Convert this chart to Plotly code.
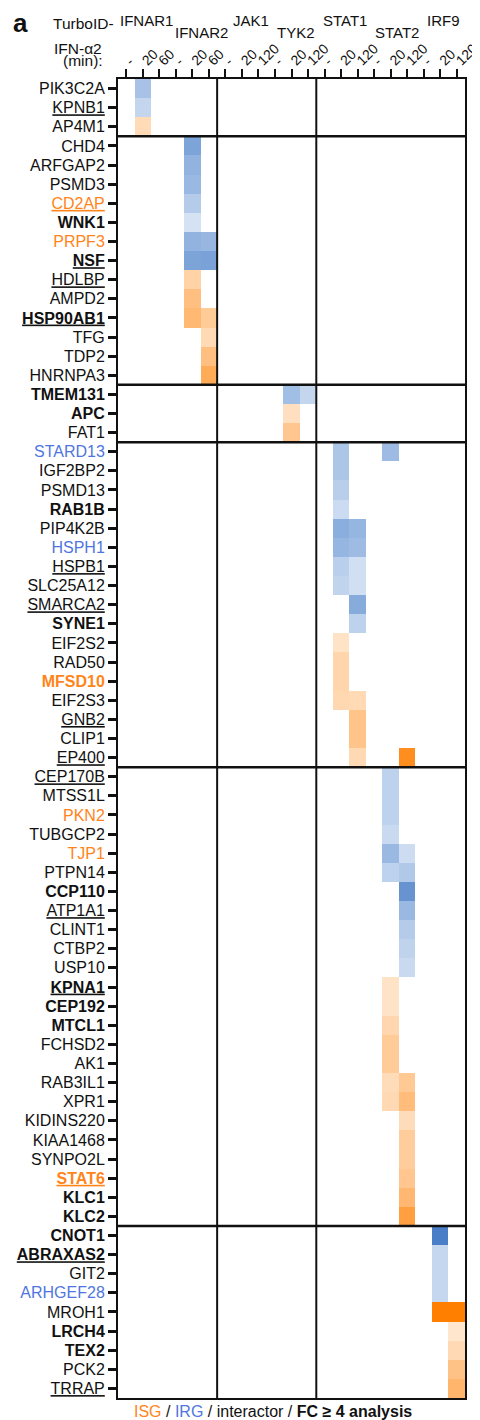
import numpy as np
import plotly.graph_objects as go

# ---------------- data ----------------
genes = [
    "PIK3C2A", "KPNB1", "AP4M1",
    "CHD4", "ARFGAP2", "PSMD3", "CD2AP", "WNK1", "PRPF3", "NSF", "HDLBP", "AMPD2",
    "HSP90AB1", "TFG", "TDP2", "HNRNPA3",
    "TMEM131", "APC", "FAT1",
    "STARD13", "IGF2BP2", "PSMD13", "RAB1B", "PIP4K2B", "HSPH1", "HSPB1", "SLC25A12",
    "SMARCA2", "SYNE1", "EIF2S2", "RAD50", "MFSD10", "EIF2S3", "GNB2", "CLIP1", "EP400",
    "CEP170B", "MTSS1L", "PKN2", "TUBGCP2", "TJP1", "PTPN14", "CCP110", "ATP1A1", "CLINT1",
    "CTBP2", "USP10", "KPNA1", "CEP192", "MTCL1", "FCHSD2", "AK1", "RAB3IL1", "XPR1",
    "KIDINS220", "KIAA1468", "SYNPO2L", "STAT6", "KLC1", "KLC2",
    "CNOT1", "ABRAXAS2", "GIT2", "ARHGEF28", "MROH1", "LRCH4", "TEX2", "PCK2", "TRRAP",
]
group_sizes = [3, 13, 3, 17, 24, 9]

isg_genes = ["CD2AP", "PRPF3", "MFSD10", "PKN2", "TJP1", "STAT6"]
irg_genes = ["STARD13", "HSPH1", "ARHGEF28"]
interactor_genes = ["KPNB1", "CD2AP", "NSF", "HDLBP", "HSP90AB1", "HSPB1", "SMARCA2", "GNB2",
                    "EP400", "CEP170B", "ATP1A1", "KPNA1", "STAT6", "ABRAXAS2", "TRRAP"]
fc4_genes = ["WNK1", "NSF", "HSP90AB1", "TMEM131", "APC", "RAB1B", "SYNE1", "MFSD10", "CCP110",
             "KPNA1", "CEP192", "MTCL1", "STAT6", "KLC1", "KLC2", "CNOT1", "ABRAXAS2",
             "LRCH4", "TEX2"]

baits = ["IFNAR1", "IFNAR2", "JAK1", "TYK2", "STAT1", "STAT2", "IRF9"]
bait_times = [["-", "20", "60"], ["-", "20", "60"], ["-", "20", "120"], ["-", "20", "120"],
              ["-", "20", "120"], ["-", "20", "120"], ["-", "20", "120"]]

# signed enrichment score per bait/time (negative = blue, positive = orange)
IFNAR1_20 = {"PIK3C2A": -0.35, "KPNB1": -0.2, "AP4M1": 0.21}
IFNAR2_20 = {"CHD4": -0.58, "ARFGAP2": -0.46, "PSMD3": -0.42, "CD2AP": -0.28, "WNK1": -0.11,
             "PRPF3": -0.46, "NSF": -0.58, "HDLBP": 0.3, "AMPD2": 0.5, "HSP90AB1": 0.55}
IFNAR2_60 = {"PRPF3": -0.43, "NSF": -0.6, "HSP90AB1": 0.38, "TFG": 0.22, "TDP2": 0.5,
             "HNRNPA3": 0.66}
TYK2_20 = {"TMEM131": -0.38, "APC": 0.17, "FAT1": 0.42}
TYK2_120 = {"TMEM131": -0.2}
STAT1_20 = {"STARD13": -0.32, "IGF2BP2": -0.32, "PSMD13": -0.26, "RAB1B": -0.16,
            "PIP4K2B": -0.5, "HSPH1": -0.44, "HSPB1": -0.25, "SLC25A12": -0.21,
            "EIF2S2": 0.13, "RAD50": 0.27, "MFSD10": 0.27, "EIF2S3": 0.25}
STAT1_120 = {"PIP4K2B": -0.44, "HSPH1": -0.4, "HSPB1": -0.13, "SLC25A12": -0.13,
             "SMARCA2": -0.52, "SYNE1": -0.23, "EIF2S3": 0.22, "GNB2": 0.45, "CLIP1": 0.45,
             "EP400": 0.23}
STAT2_20 = {"STARD13": -0.4, "CEP170B": -0.23, "MTSS1L": -0.23, "PKN2": -0.23,
            "TUBGCP2": -0.17, "TJP1": -0.42, "PTPN14": -0.23, "KPNA1": 0.13, "CEP192": 0.13,
            "MTCL1": 0.26, "FCHSD2": 0.38, "AK1": 0.38, "RAB3IL1": 0.2, "XPR1": 0.23}
STAT2_120 = {"EP400": 0.88, "TJP1": -0.15, "PTPN14": -0.3, "CCP110": -0.72, "ATP1A1": -0.42,
             "CLINT1": -0.28, "CTBP2": -0.22, "USP10": -0.17, "RAB3IL1": 0.4, "XPR1": 0.52,
             "KIDINS220": 0.2, "KIAA1468": 0.36, "SYNPO2L": 0.36, "STAT6": 0.42,
             "KLC1": 0.56, "KLC2": 0.75}
IRF9_20 = {"CNOT1": -0.9, "ABRAXAS2": -0.19, "GIT2": -0.19, "ARHGEF28": -0.19, "MROH1": 1.0}
IRF9_120 = {"MROH1": 1.0, "LRCH4": 0.1, "TEX2": 0.23, "PCK2": 0.47, "TRRAP": 0.58}

columns = [
    {}, IFNAR1_20, {},
    {}, IFNAR2_20, IFNAR2_60,
    {}, {}, {},
    {}, TYK2_20, TYK2_120,
    {}, STAT1_20, STAT1_120,
    {}, STAT2_20, STAT2_120,
    {}, IRF9_20, IRF9_120,
]

# ---------------- build ----------------
ORANGE_TXT = "#ff8419"
BLUE_TXT = "#4f76e0"
INK = "#111"
FONT = "Liberation Sans, Arial, Helvetica, sans-serif"

n_rows, n_cols = len(genes), len(columns)
z = np.full((n_rows, n_cols), np.nan)
for ci, col in enumerate(columns):
    for g, v in col.items():
        z[genes.index(g), ci] = v

def fmt_label(g):
    t = g
    if g in fc4_genes:
        t = f"<b>{t}</b>"
    if g in interactor_genes:
        t = f"<u>{t}</u>"
    if g in isg_genes:
        t = f"<span style='color:{ORANGE_TXT}'>{t}</span>"
    elif g in irg_genes:
        t = f"<span style='color:{BLUE_TXT}'>{t}</span>"
    return t

ticktext_y = [fmt_label(g) for g in genes]
ticktext_x = [t for ts in bait_times for t in ts]

colorscale = [
    [0.0, "#3a72c2"],
    [0.25, "#8aaedd"],
    [0.45, "#d6e3f4"],
    [0.5, "#ffffff"],
    [0.55, "#ffe6cc"],
    [0.75, "#ffbf80"],
    [1.0, "#ff7f00"],
]

fig = go.Figure(go.Heatmap(
    z=z, x=list(range(n_cols)), y=list(range(n_rows)),
    colorscale=colorscale, zmin=-1, zmax=1, showscale=False,
    hoverongaps=False, xgap=0, ygap=0,
))

# page geometry (pixels in the 480x1420 window); the page body has an 8px margin
PAGE_W, PAGE_H, OFF = 480, 1420, 8
L, R, T, B = 118, 465, 79, 1398

def px_x(px):
    return (px - L) / (R - L)

def px_y(py):
    return (B - py) / (B - T)

shapes = []
bounds = np.cumsum(group_sizes)[:-1]
for b in bounds:
    shapes.append(dict(type="line", xref="x", yref="y", x0=-0.5, x1=n_cols - 0.5,
                       y0=b - 0.5, y1=b - 0.5, line=dict(color=INK, width=2.5)))
for xb in [5.5, 11.5]:
    shapes.append(dict(type="line", xref="x", yref="y", x0=xb, x1=xb,
                       y0=-0.5, y1=n_rows - 0.5, line=dict(color=INK, width=2)))

def ann(text, px, py, size, xanchor="center"):
    return dict(text=text, xref="paper", yref="paper", x=px_x(px), y=px_y(py),
                xanchor=xanchor, yanchor="middle", showarrow=False,
                font=dict(family=FONT, size=size, color=INK))

annotations = []
bait_pos = [(146.7, 20.5), (201.5, 32.5), (250.5, 20.5), (295.5, 32.5),
            (345.0, 20.5), (397.0, 32.0), (443.5, 20.5)]
for name, (px, py) in zip(baits, bait_pos):
    annotations.append(ann(name, px, py, 15))
annotations += [
    ann("<b>a</b>", 20.5, 23, 26),
    ann("TurboID-", 115.5, 23.5, 15.5, "right"),
    ann("IFN-α2", 104, 49, 15.5, "right"),
    ann("(min):", 104.5, 60.5, 15.5, "right"),
    ann(f"<span style='color:{ORANGE_TXT}'>ISG</span> / "
        f"<span style='color:{BLUE_TXT}'>IRG</span> / interactor / <b>FC ≥ 4 analysis</b>",
        272.5, 1411, 16),
]

fig.update_layout(
    width=PAGE_W - OFF, height=PAGE_H - OFF,
    margin=dict(l=L - OFF, r=PAGE_W - R, t=T - OFF, b=PAGE_H - B, pad=0),
    paper_bgcolor="white", plot_bgcolor="white",
    template="none",
    font=dict(family=FONT, color=INK),
    shapes=shapes, annotations=annotations,
    xaxis=dict(
        side="top", tickmode="array", tickvals=list(range(n_cols)), ticktext=ticktext_x,
        tickangle=-45, ticks="outside", ticklen=8, tickwidth=2, tickcolor=INK,
        tickfont=dict(family=FONT, size=14, color=INK),
        ticklabeloverflow="allow", ticklabelstandoff=-5,
        range=[-0.5, n_cols - 0.5], showgrid=False, zeroline=False,
        showline=True, mirror=True, linewidth=2, linecolor=INK, automargin=False,
    ),
    yaxis=dict(
        tickmode="array", tickvals=list(range(n_rows)), ticktext=ticktext_y,
        ticks="outside", ticklen=8, tickwidth=2.5, tickcolor=INK,
        tickfont=dict(family=FONT, size=16, color=INK),
        range=[n_rows - 0.5, -0.5], showgrid=False, zeroline=False,
        showline=True, mirror=True, linewidth=2, linecolor=INK, automargin=False,
    ),
)

fig.write_html("out.html")
